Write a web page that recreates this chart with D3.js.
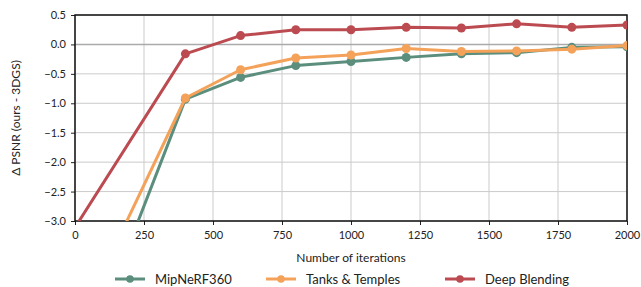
<!DOCTYPE html>
<html>
<head>
<meta charset="utf-8">
<script src="https://cdn.jsdelivr.net/npm/d3@7"></script>
<style>
  body { margin: 0; background: #fff; }
  text { font-family: Lato, "Open Sans", sans-serif; fill: #222; }
</style>
</head>
<body>
<div id="chart"></div>
<script>
// data
var iterations = [0, 400, 600, 800, 1000, 1200, 1400, 1600, 1800, 2000];
var mipnerf  = [-5.77, -0.93, -0.56, -0.36, -0.29, -0.22, -0.16, -0.14, -0.05, -0.04];
var tanks    = [-4.85, -0.91, -0.43, -0.23, -0.18, -0.07, -0.12, -0.11, -0.08, -0.02];
var blending = [-3.11, -0.16, 0.15, 0.25, 0.25, 0.29, 0.28, 0.35, 0.29, 0.33];
var seriesNames = ['MipNeRF360', 'Tanks & Temples', 'Deep Blending'];
var colors = ['#5B8E7D', '#F4A259', '#BC4B51'];
var xTicks = [0, 250, 500, 750, 1000, 1250, 1500, 1750, 2000];
var yTicks = [0.5, 0.0, -0.5, -1.0, -1.5, -2.0, -2.5, -3.0];

var W = 641, H = 287;
var m = {left: 75, right: 14, top: 15, bottom: 66};

var svg = d3.select('#chart').append('svg')
  .attr('width', W).attr('height', H);

var x = d3.scaleLinear().domain([0, 2000]).range([m.left, W - m.right]);
var y = d3.scaleLinear().domain([-3, 0.5]).range([H - m.bottom, m.top]);

svg.append('clipPath').attr('id', 'clip')
  .append('rect')
  .attr('x', m.left).attr('y', m.top)
  .attr('width', W - m.left - m.right).attr('height', H - m.top - m.bottom);

// grid
svg.append('g').selectAll('line').data(xTicks).enter().append('line')
  .attr('x1', d => x(d)).attr('x2', d => x(d))
  .attr('y1', m.top).attr('y2', H - m.bottom)
  .attr('stroke', '#cbcbcb').attr('stroke-width', 1);
svg.append('g').selectAll('line').data(yTicks).enter().append('line')
  .attr('x1', m.left).attr('x2', W - m.right)
  .attr('y1', d => y(d)).attr('y2', d => y(d))
  .attr('stroke', d => d === 0 ? '#aaaaaa' : '#cbcbcb')
  .attr('stroke-width', d => d === 0 ? 1.6 : 1);

// axes
var xAxis = svg.append('g')
  .attr('transform', 'translate(0,' + (H - m.bottom) + ')')
  .call(d3.axisBottom(x).tickValues(xTicks).tickFormat(d3.format('d')).tickSize(4).tickPadding(6));
var yAxis = svg.append('g')
  .attr('transform', 'translate(' + m.left + ',0)')
  .call(d3.axisLeft(y).tickValues(yTicks).tickFormat(d3.format('.1f')).tickSize(4).tickPadding(5));
[xAxis, yAxis].forEach(function(a) {
  a.select('.domain').remove();
  a.selectAll('text').style('font-size', '11px').attr('fill', '#222');
  a.selectAll('line').attr('stroke', '#222');
});

// frame
svg.append('rect')
  .attr('x', m.left).attr('y', m.top)
  .attr('width', W - m.left - m.right).attr('height', H - m.top - m.bottom)
  .attr('fill', 'none').attr('stroke', '#111').attr('stroke-width', 1.5);

// series
var all = [mipnerf, tanks, blending];
var line = d3.line().x((d, i) => x(iterations[i])).y(d => y(d));
var plot = svg.append('g').attr('clip-path', 'url(#clip)');
all.forEach(function(vals, k) {
  plot.append('path').datum(vals)
    .attr('d', line)
    .attr('fill', 'none')
    .attr('stroke', colors[k])
    .attr('stroke-width', 3)
    .attr('stroke-linejoin', 'round');
  plot.selectAll('.pt' + k).data(vals).enter().append('circle')
    .attr('cx', (d, i) => x(iterations[i]))
    .attr('cy', d => y(d))
    .attr('r', 4.5)
    .attr('fill', colors[k]);
});

// labels
svg.append('text')
  .attr('x', (m.left + W - m.right) / 2).attr('y', 262)
  .attr('text-anchor', 'middle').style('font-size', '12px')
  .text('Number of iterations');
svg.append('text')
  .attr('transform', 'translate(20,' + ((m.top + H - m.bottom) / 2) + ') rotate(-90)')
  .attr('text-anchor', 'middle').style('font-size', '12px')
  .text('Δ PSNR (ours - 3DGS)');

// legend
var legX = [115, 266, 445];
var legend = svg.append('g');
seriesNames.forEach(function(n, k) {
  var g = legend.append('g').attr('transform', 'translate(' + legX[k] + ',279)');
  g.append('line').attr('x1', 0).attr('x2', 30).attr('y1', 0).attr('y2', 0)
    .attr('stroke', colors[k]).attr('stroke-width', 3);
  g.append('circle').attr('cx', 15).attr('cy', 0).attr('r', 3.8).attr('fill', colors[k]);
  g.append('text').attr('x', 40).attr('y', 5)
    .style('font-size', '13px').text(n);
});
</script>
</body>
</html>
